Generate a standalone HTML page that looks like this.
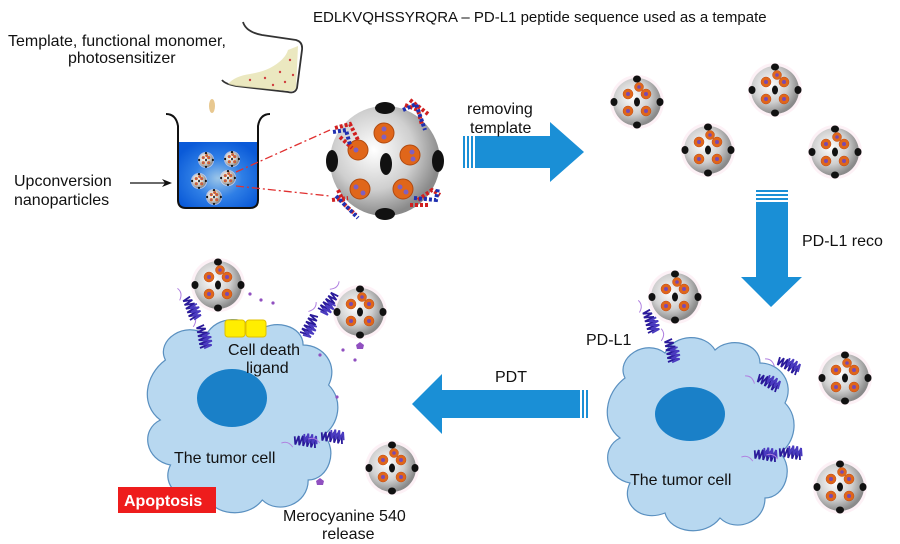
<!DOCTYPE html>
<html><head><meta charset="utf-8"><style>
html,body{margin:0;padding:0;background:#fff;}
svg{display:block;font-family:"Liberation Sans",Arial,sans-serif;}
</style></head><body>
<svg width="900" height="544" viewBox="0 0 900 544" xmlns="http://www.w3.org/2000/svg">
<defs>
<radialGradient id="sph" cx="0.4" cy="0.4" r="0.6">
<stop offset="0" stop-color="#ffffff"/><stop offset="0.6" stop-color="#cfcfcf"/><stop offset="1" stop-color="#8a8a8a"/>
</radialGradient>
<radialGradient id="liq" cx="0.5" cy="0.55" r="0.6">
<stop offset="0" stop-color="#9cc6e8"/><stop offset="0.5" stop-color="#2f7fe6"/><stop offset="1" stop-color="#0a5ad8"/>
</radialGradient>
<g id="np">
<circle r="27" fill="#fbe8f0" opacity="0.6"/>
<circle r="24" fill="url(#sph)"/>
<ellipse cx="0" cy="-23" rx="4" ry="3.5" fill="#111"/>
<ellipse cx="0" cy="23" rx="4" ry="3.5" fill="#111"/>
<ellipse cx="-23" cy="0" rx="3.5" ry="4" fill="#111"/>
<ellipse cx="23" cy="0" rx="3.5" ry="4" fill="#111"/>
<ellipse cx="0" cy="0" rx="3" ry="4.5" fill="#111"/>
<g fill="#e0661a" stroke="#c04a10" stroke-width="0.5">
<circle cx="-9" cy="-8" r="5"/><circle cx="9" cy="-8" r="5"/><circle cx="-9" cy="9" r="5"/><circle cx="9" cy="9" r="5"/><circle cx="2" cy="-15" r="4.5"/>
</g>
<g fill="#7a4ab0"><circle cx="-9" cy="-8" r="2"/><circle cx="9" cy="-8" r="2"/><circle cx="-9" cy="9" r="2"/><circle cx="9" cy="9" r="2"/><circle cx="2" cy="-15" r="1.8"/></g>
</g>
<g id="prot" fill="none" stroke="#2a1a9a" stroke-width="1.8">
<path d="M0,0 l9,-2 l-9,-2 l10,-2 l-10,-2 l10,-2 l-10,-2 l10,-2 l-10,-2 l9,-2 l-9,-2 l8,-2"/>
<path d="M4,1 l8,-2 l-8,-2 l9,-2 l-9,-2 l9,-2 l-9,-2 l8,-2" stroke="#4a3ac0"/>
<path d="M-3,-22 q6,-6 2,-12" stroke="#b080e0" stroke-width="1"/>
</g>
<g id="cell">
<path d="M20,40 C10,20 40,0 60,15 C70,-5 100,-5 110,12 C125,-2 155,5 155,25 C175,25 190,45 180,65 C195,80 190,105 175,115 C190,130 180,160 160,160 C160,185 130,195 115,180 C100,200 65,195 60,175 C35,185 15,165 25,145 C0,140 -5,110 15,100 C-5,85 0,55 20,40 Z" fill="#b8d8f0" stroke="#5a90c0" stroke-width="1.2"/>
</g>
</defs>

<text x="313" y="22" font-size="15" fill="#111">EDLKVQHSSYRQRA – PD-L1 peptide sequence used as a tempate</text>
<text x="8" y="46" font-size="16" fill="#111">Template, functional monomer,</text>
<text x="68" y="63" font-size="16" fill="#111">photosensitizer</text>

<path d="M243,22 Q246,32 262,35 L296,40 Q303,42 302,50 L297,88 Q295,94 288,92 L236,86 Q225,84 222,80" fill="none" stroke="#333" stroke-width="1.8"/>
<path d="M228,84 Q235,76 250,74 Q262,72 270,68 Q285,60 288,50 L298,46 L296,88 Q294,92 288,91 L236,86 Z" fill="#e6e2b0" opacity="0.8"/>
<g fill="#d04040"><circle cx="250" cy="80" r="1.2"/><circle cx="265" cy="78" r="1.2"/><circle cx="280" cy="72" r="1.2"/><circle cx="290" cy="60" r="1.2"/><circle cx="285" cy="82" r="1.2"/><circle cx="273" cy="85" r="1.2"/><circle cx="293" cy="75" r="1.2"/></g>
<ellipse cx="212" cy="106" rx="3" ry="7" fill="#e8c890"/>

<path d="M178,142 L178,200 Q178,208 186,208 L250,208 Q258,208 258,200 L258,142 Z" fill="url(#liq)"/>
<path d="M166,114 Q176,114 178,126 L178,200 Q178,208 186,208 L250,208 Q258,208 258,200 L258,126 Q260,114 270,114" fill="none" stroke="#111" stroke-width="2"/>
<g transform="translate(206,160) scale(0.3)"><use href="#np"/></g>
<g transform="translate(232,159) scale(0.3)"><use href="#np"/></g>
<g transform="translate(199,181) scale(0.3)"><use href="#np"/></g>
<g transform="translate(228,178) scale(0.3)"><use href="#np"/></g>
<g transform="translate(214,197) scale(0.3)"><use href="#np"/></g>
<text x="14" y="186" font-size="16" fill="#111">Upconversion</text>
<text x="14" y="205" font-size="16" fill="#111">nanoparticles</text>
<line x1="130" y1="183" x2="168" y2="183" stroke="#111" stroke-width="1.2"/>
<path d="M172,183 L162,179 L165,183 L162,187 Z" fill="#111"/>
<line x1="236" y1="172" x2="330" y2="130" stroke="#e03030" stroke-width="1.3" stroke-dasharray="8,3,2,3"/>
<line x1="236" y1="186" x2="330" y2="196" stroke="#e03030" stroke-width="1.3" stroke-dasharray="8,3,2,3"/>

<circle cx="385" cy="161" r="55" fill="url(#sph)"/>
<g fill="#111">
<ellipse cx="385" cy="108" rx="10" ry="6"/><ellipse cx="385" cy="214" rx="10" ry="6"/>
<ellipse cx="332" cy="161" rx="6" ry="11"/><ellipse cx="438" cy="161" rx="6" ry="11"/>
<ellipse cx="386" cy="164" rx="6" ry="11"/>
</g>
<g fill="#e0661a" stroke="#b04a10"><circle cx="384" cy="133" r="10"/><circle cx="358" cy="150" r="10"/><circle cx="410" cy="155" r="10"/><circle cx="360" cy="189" r="10"/><circle cx="403" cy="189" r="10"/></g>
<g fill="#8060c0"><circle cx="384" cy="129" r="2.5"/><circle cx="384" cy="137" r="2.5"/><circle cx="356" cy="150" r="2.5"/><circle cx="412" cy="152" r="2.5"/><circle cx="413" cy="159" r="2.5"/><circle cx="356" cy="187" r="2.5"/><circle cx="363" cy="193" r="2.5"/><circle cx="400" cy="187" r="2.5"/><circle cx="406" cy="192" r="2.5"/></g>
<g stroke-width="4" stroke-dasharray="3,2" fill="none">
<path d="M335,128 L350,124 L358,140 M340,137 L352,148" stroke="#d02020"/>
<path d="M333,132 L346,130 L350,145" stroke="#2030b0"/>
<path d="M405,105 L418,110 L422,125 M410,100 L428,114" stroke="#d02020"/>
<path d="M403,110 L416,104 L425,130" stroke="#2030b0"/>
<path d="M338,190 L345,205 L356,215 M332,200 L348,198" stroke="#d02020"/>
<path d="M336,196 L350,210 L358,218" stroke="#2030b0"/>
<path d="M418,200 L432,190 L440,195 M410,205 L428,205" stroke="#d02020"/>
<path d="M414,198 L436,200 L438,188" stroke="#2030b0"/>
</g>

<g fill="#1a8fd6">
<rect x="463" y="136" width="2" height="32"/><rect x="467" y="136" width="2" height="32"/><rect x="471" y="136" width="2" height="32"/>
<path d="M475,136 L550,136 L550,122 L584,152 L550,182 L550,168 L475,168 Z"/>
</g>
<text x="467" y="114" font-size="16" fill="#111">removing</text>
<text x="470" y="133" font-size="16" fill="#111">template</text>

<use href="#np" x="637" y="102"/><use href="#np" x="775" y="90"/><use href="#np" x="708" y="150"/><use href="#np" x="835" y="152"/>

<g fill="#1a8fd6">
<rect x="756" y="190" width="32" height="2"/><rect x="756" y="194" width="32" height="2"/><rect x="756" y="198" width="32" height="2"/>
<path d="M756,202 L788,202 L788,277 L802,277 L771,307 L741,277 L756,277 Z"/>
</g>
<text x="802" y="246" font-size="16" fill="#111">PD-L1 reco</text>

<g fill="#1a8fd6">
<path d="M580,390 L442,390 L442,374 L412,404 L442,434 L442,418 L580,418 Z"/>
<rect x="582" y="390" width="2" height="28"/><rect x="586" y="390" width="2" height="28"/>
</g>
<text x="495" y="382" font-size="16" fill="#111">PDT</text>

<g transform="translate(605,338)"><use href="#cell"/></g>
<ellipse cx="690" cy="414" rx="35" ry="27" fill="#1a80c8"/>
<text x="630" y="485" font-size="16" fill="#111">The tumor cell</text>
<text x="586" y="345" font-size="16" fill="#111">PD-L1</text>
<use href="#np" x="675" y="297"/><use href="#np" x="845" y="378"/><use href="#np" x="840" y="487"/>
<g transform="translate(668,362) rotate(-10)"><use href="#prot"/></g>
<g transform="translate(648,333) rotate(-15)"><use href="#prot"/></g>
<g transform="translate(775,392) rotate(-60)"><use href="#prot"/></g>
<g transform="translate(795,375) rotate(-60)"><use href="#prot"/></g>
<g transform="translate(775,462) rotate(-80)"><use href="#prot"/></g>
<g transform="translate(800,460) rotate(-80)"><use href="#prot"/></g>

<g transform="translate(145,320) scale(1.02,1.0)"><use href="#cell"/></g>
<ellipse cx="232" cy="398" rx="35" ry="29" fill="#1a80c8"/>
<rect x="225" y="320" width="20" height="17" rx="3" fill="#ffee00" stroke="#e0c000"/>
<rect x="246" y="320" width="20" height="17" rx="3" fill="#ffee00" stroke="#e0c000"/>
<text x="228" y="355" font-size="16" fill="#111">Cell death</text>
<text x="246" y="373" font-size="16" fill="#111">ligand</text>
<text x="174" y="463" font-size="16" fill="#111">The tumor cell</text>
<rect x="118" y="487" width="98" height="26" fill="#ee1c1c"/>
<text x="124" y="506" font-size="16" font-weight="bold" fill="#fff">Apoptosis</text>
<text x="283" y="521" font-size="16" fill="#111">Merocyanine 540</text>
<text x="322" y="539" font-size="16" fill="#111">release</text>
<use href="#np" x="218" y="285"/><use href="#np" x="360" y="312"/><use href="#np" x="392" y="468"/>
<g transform="translate(200,348) rotate(-10)"><use href="#prot"/></g>
<g transform="translate(190,320) rotate(-20)"><use href="#prot"/></g>
<g transform="translate(300,332) rotate(30)"><use href="#prot"/></g>
<g transform="translate(318,308) rotate(40)"><use href="#prot"/></g>
<g transform="translate(315,448) rotate(-80)"><use href="#prot"/></g>
<g transform="translate(342,444) rotate(-80)"><use href="#prot"/></g>
<g fill="#9050c0">
<circle cx="250" cy="294" r="1.6"/><circle cx="261" cy="300" r="1.6"/><circle cx="273" cy="303" r="1.6"/><circle cx="320" cy="355" r="1.6"/><circle cx="343" cy="350" r="1.6"/><circle cx="355" cy="360" r="1.6"/><circle cx="337" cy="397" r="1.6"/>
<path d="M356,345 l4,-3 l4,3 l-1,4 l-6,0 Z"/><path d="M316,481 l4,-3 l4,3 l-1,4 l-6,0 Z"/>
</g>
</svg>
</body></html>
